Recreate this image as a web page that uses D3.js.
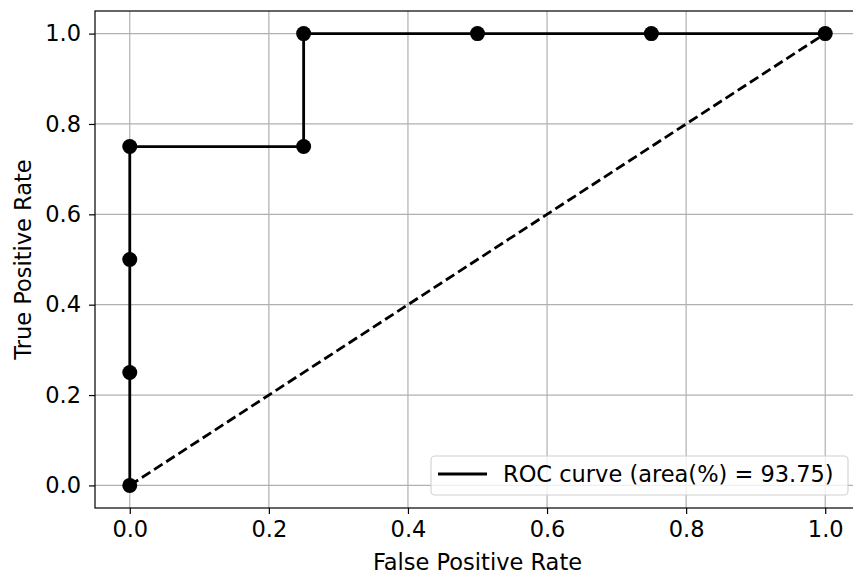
<!DOCTYPE html>
<html>
<head>
<meta charset="utf-8">
<script src="https://cdn.jsdelivr.net/npm/d3@7"></script>
<style>
  body { margin: 0; background: #fff; }
  svg { display: block; font-family: "DejaVu Sans", sans-serif; }
</style>
</head>
<body>
<div id="chart"></div>
<script>
// ROC points
var fpr = [0, 0, 0, 0, 0.25, 0.25, 0.5, 0.75, 1];
var tpr = [0, 0.25, 0.5, 0.75, 0.75, 1, 1, 1, 1];
var diagX = [0, 1];
var diagY = [0, 1];
var xTicks = [0, 0.2, 0.4, 0.6, 0.8, 1.0];
var yTicks = [0, 0.2, 0.4, 0.6, 0.8, 1.0];
var legendLabel = "ROC curve (area(%) = 93.75)";

var W = 853, H = 576;
var mLeft = 95, mTop = 11, mRight = 860, mBottom = 508;
var fs = "22.5px";

var svg = d3.select("#chart").append("svg").attr("width", W).attr("height", H);

var x = d3.scaleLinear().domain([-0.05, 1.05]).range([mLeft, mRight]);
var y = d3.scaleLinear().domain([-0.05, 1.05]).range([mBottom, mTop]);

//grid
svg.append("g").selectAll("line").data(xTicks).enter().append("line")
  .attr("x1", d => x(d)).attr("x2", d => x(d)).attr("y1", mTop).attr("y2", mBottom)
  .attr("stroke", "#b0b0b0").attr("stroke-width", 1.2);
svg.append("g").selectAll("line").data(yTicks).enter().append("line")
  .attr("y1", d => y(d)).attr("y2", d => y(d)).attr("x1", mLeft).attr("x2", mRight)
  .attr("stroke", "#b0b0b0").attr("stroke-width", 1.2);

//axes
var xAxis = svg.append("g").attr("transform", "translate(0," + mBottom + ")")
  .call(d3.axisBottom(x).tickValues(xTicks).tickFormat(d3.format(".1f")).tickSizeOuter(0).tickSize(6).tickPadding(7));
var yAxis = svg.append("g").attr("transform", "translate(" + mLeft + ",0)")
  .call(d3.axisLeft(y).tickValues(yTicks).tickFormat(d3.format(".1f")).tickSizeOuter(0).tickSize(6).tickPadding(8));
[xAxis, yAxis].forEach(function(a) {
  a.select(".domain").remove();
  a.selectAll(".tick line").attr("stroke", "#000").attr("stroke-width", 1.2);
  a.selectAll(".tick text").attr("fill", "#000").style("font-size", fs).style("font-family", "DejaVu Sans");
});

//frame
svg.append("rect").attr("x", mLeft).attr("y", mTop).attr("width", mRight - mLeft).attr("height", mBottom - mTop)
  .attr("fill", "none").attr("stroke", "#000").attr("stroke-width", 1.2);

//diagonal
var line = d3.line().x(d => x(d[0])).y(d => y(d[1]));
svg.append("path").datum(d3.zip(diagX, diagY)).attr("d", line)
  .attr("fill", "none").attr("stroke", "#000").attr("stroke-width", 2.8).attr("stroke-dasharray", "10,4.5");

//roc curve
var pts = d3.zip(fpr, tpr);
svg.append("path").datum(pts).attr("d", line)
  .attr("fill", "none").attr("stroke", "#000").attr("stroke-width", 2.8);
svg.append("g").selectAll("circle").data(pts).enter().append("circle")
  .attr("cx", d => x(d[0])).attr("cy", d => y(d[1])).attr("r", 7.5).attr("fill", "#000");

//labels
svg.append("text").attr("x", (mLeft + mRight) / 2).attr("y", 570).attr("text-anchor", "middle")
  .style("font-size", fs).text("False Positive Rate");
svg.append("text").attr("transform", "translate(31," + (mTop + mBottom) / 2 + ") rotate(-90)")
  .attr("text-anchor", "middle").style("font-size", fs).text("True Positive Rate");

//legend
var lg = svg.append("g");
lg.append("rect").attr("x", 431).attr("y", 456).attr("width", 417).attr("height", 39).attr("rx", 4)
  .attr("fill", "#fff").attr("fill-opacity", 0.8).attr("stroke", "#d0d0d0").attr("stroke-width", 1.1);
lg.append("line").attr("x1", 438).attr("x2", 487).attr("y1", 474).attr("y2", 474)
  .attr("stroke", "#000").attr("stroke-width", 2.8);
lg.append("text").attr("x", 503).attr("y", 482).style("font-size", fs).text(legendLabel);
</script>
</body>
</html>
